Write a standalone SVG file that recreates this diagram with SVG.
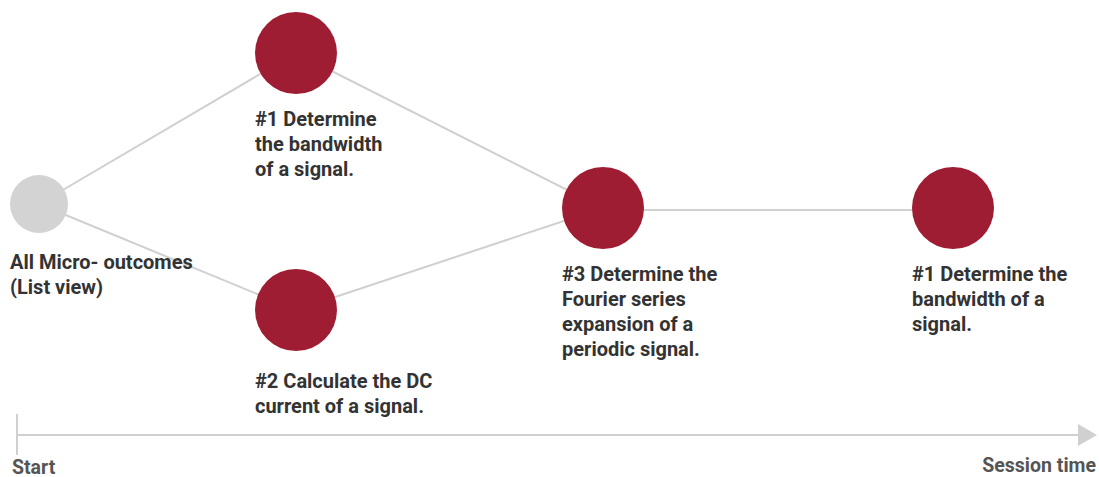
<svg xmlns="http://www.w3.org/2000/svg" width="1099" height="477" viewBox="0 0 1099 477">
<defs>
<style>
.lbl{font-family:Roboto,"Liberation Sans",sans-serif;font-weight:bold;font-size:20px;fill:#333;}
.ax{font-family:Roboto,"Liberation Sans",sans-serif;font-weight:bold;font-size:19.5px;fill:#555;}
.edge{stroke:#d0d0d0;stroke-width:2;fill:none;}
.red{fill:#9e1d33;}
</style>
</defs>
<rect width="1099" height="477" fill="#fff"/>
<g id="connectors">
<line class="edge" x1="39" y1="204" x2="296" y2="53"/>
<line class="edge" x1="39" y1="204" x2="296" y2="310"/>
<line class="edge" x1="296" y1="53" x2="603" y2="208"/>
<line class="edge" x1="296" y1="310" x2="603" y2="208"/>
<line class="edge" x1="603" y1="210" x2="953" y2="210"/>
</g>
<g id="axis">
<line class="edge" x1="17" y1="414" x2="17" y2="455"/>
<line class="edge" x1="17" y1="435" x2="1080" y2="435"/>
<polygon points="1078,424 1097,435 1078,446" fill="#d0d0d0"/>
<text class="ax" x="12" y="474">Start</text>
<text class="ax" x="1096" y="472" text-anchor="end">Session time</text>
</g>
<g id="start">
<circle cx="39" cy="204" r="29" fill="#d3d3d3"/>
<text class="lbl" x="10" y="269">All Micro- outcomes</text>
<text class="lbl" x="10" y="294">(List view)</text>
</g>
<g id="n1">
<circle class="red" cx="296" cy="53" r="41"/>
<text class="lbl" x="255" y="126">#1 Determine</text>
<text class="lbl" x="255" y="151">the bandwidth</text>
<text class="lbl" x="255" y="176">of a signal.</text>
</g>
<g id="n2">
<circle class="red" cx="296" cy="310" r="41"/>
<text class="lbl" x="255" y="388">#2 Calculate the DC</text>
<text class="lbl" x="255" y="413">current of a signal.</text>
</g>
<g id="n3">
<circle class="red" cx="603" cy="208" r="41"/>
<text class="lbl" x="562" y="281">#3 Determine the</text>
<text class="lbl" x="562" y="306">Fourier series</text>
<text class="lbl" x="562" y="331">expansion of a</text>
<text class="lbl" x="562" y="356">periodic signal.</text>
</g>
<g id="n4">
<circle class="red" cx="953" cy="208" r="41"/>
<text class="lbl" x="912" y="281">#1 Determine the</text>
<text class="lbl" x="912" y="306">bandwidth of a</text>
<text class="lbl" x="912" y="331">signal.</text>
</g>
</svg>
